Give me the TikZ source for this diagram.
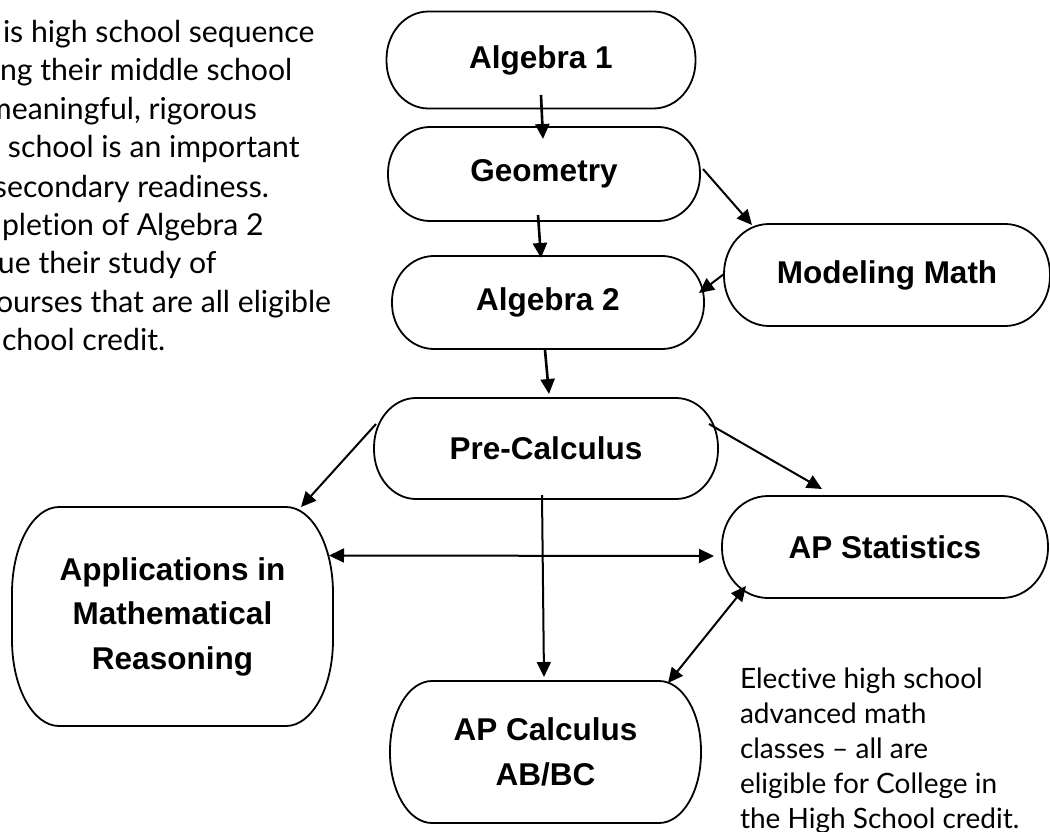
\documentclass[tikz,border=0pt]{standalone}
\usepackage{fontspec}
\usepackage{tikz}
\usetikzlibrary{arrows.meta}
\usetikzlibrary{positioning}
\newfontfamily\boxfont{Liberation Sans}
\newfontfamily\notefont[Ligatures={NoCommon}]{Lato}
% outline with elliptic ends round a named node: name, x radius, y radius
\newcommand{\ovalbox}[3]{%
  \draw[-,line width=1.8pt] ([xshift=#2]#1.north west) -- ([xshift=-#2]#1.north east)
    arc[start angle=90,end angle=0,x radius=#2,y radius=#3] -- ([yshift=#3]#1.south east)
    arc[start angle=0,end angle=-90,x radius=#2,y radius=#3] -- ([xshift=#2]#1.south west)
    arc[start angle=270,end angle=180,x radius=#2,y radius=#3] -- ([yshift=-#3]#1.north west)
    arc[start angle=180,end angle=90,x radius=#2,y radius=#3] -- cycle;}
\begin{document}
\begin{tikzpicture}[->,>={Triangle[length=15pt,width=14pt]},x=1pt,y=-1pt,line width=2pt]
\tikzstyle{course}=[rectangle,inner sep=0pt,align=center,font=\boxfont\bfseries\fontsize{31.5}{44.5}\selectfont]
\tikzstyle{note}=[anchor=base west,inner sep=0pt,align=left,font=\notefont\fontsize{28}{35}\selectfont]
\tikzstyle{intro}=[note,font=\notefont\fontsize{30.2}{38}\selectfont]
\useasboundingbox (0,0) rectangle (1050,832);
% courses
\node[course, minimum width=307pt, minimum height=95pt]	(alg1)	at (541,60)		{Algebra 1};
\node[course, minimum width=310pt, minimum height=92pt]	(geo)	at (544,174)	{Geometry};
\node[course, minimum width=310pt, minimum height=91pt]	(alg2)	at (548,302.5)	{Algebra 2};
\node[course, minimum width=324pt, minimum height=100pt]	(modm)	at (887,275)	{Modeling Math};
\node[course, minimum width=342pt, minimum height=99pt]	(prec)	at (546,448.5)	{Pre-Calculus};
\node[course, minimum width=324pt, minimum height=100pt]	(apst)	at (885,547)	{AP Statistics};
\node[course, minimum width=319pt, minimum height=217pt]	(appl)	at (172.5,616.5)	{Applications in\\Mathematical\\Reasoning};
\node[course, minimum width=309pt, minimum height=140pt]	(apcal)	at (545.5,752)	{AP Calculus\\AB/BC};
\ovalbox{alg1}{42pt}{47.5pt}
\ovalbox{geo}{42pt}{46pt}
\ovalbox{alg2}{42pt}{45.5pt}
\ovalbox{modm}{45pt}{50pt}
\ovalbox{prec}{42pt}{49.5pt}
\ovalbox{apst}{46pt}{50pt}
\ovalbox{appl}{47pt}{86pt}
\ovalbox{apcal}{42pt}{70pt}
% notes
\node[intro]	(l1)	at (2,43)	{is high school sequence};
\node[intro]	(l2)	at (-1,81)	{ng their middle school};
\node[intro]	(l3)	at (-14,120)	{meaningful, rigorous};
\node[intro]	(l4)	at (7,158)	{school is an important};
\node[intro]	(l5)	at (-7,197)	{secondary readiness.};
\node[intro]	(l6)	at (1,235)	{pletion of Algebra 2};
\node[intro]	(l7)	at (-3,273)	{ue their study of};
\node[intro]	(l8)	at (-5,312)	{ourses that are all eligible};
\node[intro]	(l9)	at (1,350)	{chool credit.};
\node[note]	(elective)	at (739,828)	{Elective high school\\advanced math\\classes – all are\\eligible for College in\\the High School credit.};
% sequence
\path[line width=2.6pt]
	 ([yshift=13.5pt]alg1.south)				edge	([xshift=-1pt,yshift=-12pt]geo.north)
	 ([xshift=-6pt,yshift=6pt]geo.south)		edge	([xshift=-7pt,yshift=-2pt]alg2.north)
	 ([xshift=-3pt,yshift=-1pt]alg2.south)		edge	([xshift=3pt,yshift=4pt]prec.north);
\path([xshift=3pt,yshift=5pt]geo.east)			edge	([xshift=28pt,yshift=-1pt]modm.north west)
	 ([yshift=1pt]modm.west)					edge	([xshift=-5pt,yshift=9.5pt]alg2.east)
	 ([xshift=2pt,yshift=-26pt]prec.north west)	edge	([xshift=-32pt]appl.north east)
	 ([xshift=-9pt,yshift=-26pt]prec.north east)	edge	([xshift=100pt,yshift=7pt]apst.north west)
	 ([xshift=-4pt,yshift=4pt]prec.south)		edge	([xshift=-1.5pt,yshift=4pt]apcal.north)
	 ([xshift=-4pt,yshift=61pt]appl.east)		edge[<->]	([xshift=-8pt,yshift=-9pt]apst.west)
	 ([xshift=-33pt,yshift=-2pt]apcal.north east)	edge[<->]	([xshift=24pt,yshift=12pt]apst.south west);
\end{tikzpicture}
\end{document}
